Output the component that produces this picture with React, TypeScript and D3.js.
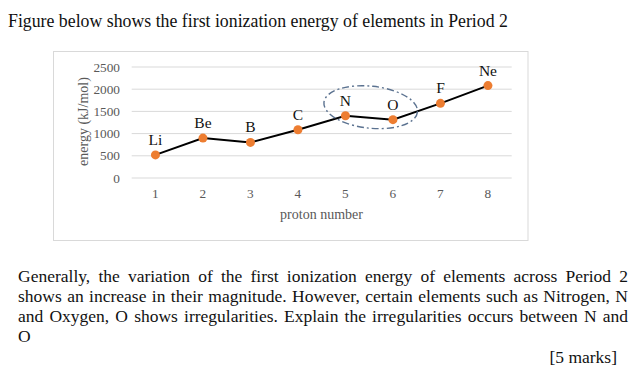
import React, { useRef, useEffect } from 'react';
import * as d3 from 'd3';

// chart values
const protonNumbers = [1, 2, 3, 4, 5, 6, 7, 8];
const elements = ['Li', 'Be', 'B', 'C', 'N', 'O', 'F', 'Ne'];
const energies = [520, 899, 801, 1086, 1402, 1314, 1681, 2081];
const yTicks = [0, 500, 1000, 1500, 2000, 2500];

const title = 'Figure below shows the first ionization energy of elements in Period 2';
const paragraph = [
  { text: 'Generally, the variation of the first ionization energy of elements across Period 2', justify: true },
  { text: 'shows an increase in their magnitude. However, certain elements such as Nitrogen, N', justify: true },
  { text: 'and Oxygen, O shows irregularities. Explain the irregularities occurs between N and', justify: true },
  { text: 'O', justify: false },
];
const marks = '[5 marks]';

const serif = '"Liberation Serif", "Times New Roman", serif';

const App: React.FC = () => {
  const paraRef = useRef<SVGGElement | null>(null);

  const x = d3.scaleBand<number>()
    .domain(protonNumbers)
    .range([131.7, 511.7])
    .paddingInner(0)
    .paddingOuter(0);
  const cx = (p: number) => x(p)! + x.bandwidth() / 2;

  const y = d3.scaleLinear().domain([0, 2500]).range([178, 67]);

  const line = d3.line<number>()
    .x((_, i) => cx(protonNumbers[i]))
    .y(d => y(d));

  // justify the paragraph lines by stretching word spacing
  useEffect(() => {
    if (!paraRef.current) return;
    const left = 18;
    const right = 628;
    d3.select(paraRef.current).selectAll<SVGTextElement, unknown>('text.justify').each(function () {
      const el = this;
      el.style.wordSpacing = '0px';
      const w = el.getComputedTextLength();
      const gaps = (el.textContent || '').split(' ').length - 1;
      if (gaps > 0) el.style.wordSpacing = `${(right - left - w) / gaps}px`;
    });
  }, []);

  const nCenterX = (cx(5) + cx(6)) / 2 + 1.5;
  const nCenterY = (y(energies[4]) + y(energies[5])) / 2 - 10.5;

  return (
    <svg width={640} height={371} style={{ position: 'absolute', left: 0, top: 0, background: '#fff' }}
      fontFamily={serif}>
      <rect width={640} height={371} fill="#ffffff" />
      <text x={8} y={27} fontSize={17.8} fill="#111">{title}</text>

      {/* chart frame */}
      <rect x={53.5} y={51.5} width={474.5} height={189} fill="#fff" stroke="#d9d9d9" strokeWidth={1} />

      {/* grid lines */}
      {yTicks.map(t => (
        <line key={t} x1={131.7} x2={511.7} y1={y(t)} y2={y(t)} stroke="#d9d9d9" strokeWidth={1} />
      ))}

      {/* y tick labels */}
      {yTicks.map(t => (
        <text key={t} x={120} y={y(t)} dy="0.35em" textAnchor="end" fontSize={13.3} fill="#595959">{t}</text>
      ))}

      {/* x tick labels */}
      {protonNumbers.map(p => (
        <text key={p} x={cx(p)} y={198} textAnchor="middle" fontSize={13.3} fill="#595959">{p}</text>
      ))}

      <text x={321.5} y={219} textAnchor="middle" fontSize={14} fill="#595959">proton number</text>
      <text transform={`translate(88,121.5) rotate(-90)`} textAnchor="middle" fontSize={14} fill="#595959">energy (kJ/mol)</text>

      {/* series line */}
      <path d={line(energies) || ''} fill="none" stroke="#000" strokeWidth={2} />

      {energies.map((e, i) => (
        <circle key={i} cx={cx(protonNumbers[i])} cy={y(e)} r={4.5} fill="#ed7d31" />
      ))}

      {energies.map((e, i) => (
        <text key={i} x={cx(protonNumbers[i])} y={y(e) - 10} textAnchor="middle" fontSize={15.5} fill="#111">{elements[i]}</text>
      ))}

      {/* dash-dot ellipse around N and O */}
      <ellipse cx={0} cy={0} rx={47} ry={21}
        transform={`translate(${nCenterX},${nCenterY}) rotate(6)`}
        fill="none" stroke="#5b7290" strokeWidth={1.4} strokeDasharray="7 3 2 3" />

      <g ref={paraRef} fontSize={17.5} fill="#111">
        {paragraph.map((l, i) => (
          <text key={i} className={l.justify ? 'justify' : ''} x={18} y={281.5 + i * 20.2}>{l.text}</text>
        ))}
        <text x={617} y={363} textAnchor="end">{marks}</text>
      </g>
    </svg>
  );
};

export default App;
